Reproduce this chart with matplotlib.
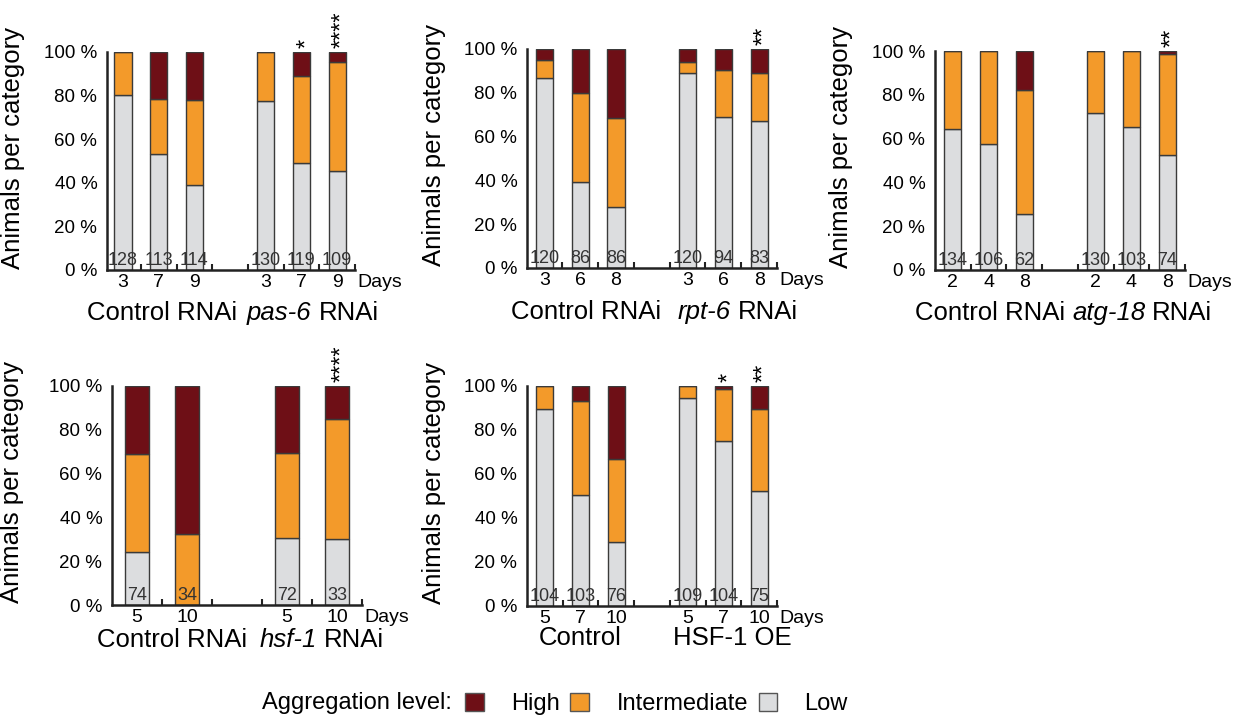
import matplotlib
matplotlib.use("Agg")
import matplotlib.pyplot as plt
from matplotlib.patches import Patch
from matplotlib.offsetbox import TextArea, HPacker, AnnotationBbox
from matplotlib.transforms import blended_transform_factory
import numpy as np

plt.rcParams['font.family'] = ['Liberation Sans', 'DejaVu Sans']

W, H = 1243, 715
HIGH_C = '#6e0f16'
MID_C = '#f39a2a'
LOW_C = '#dcdddf'
EDGE = '#3a3a3a'

# pas-6 panel
p1_days = ['3', '7', '9', '3', '7', '9']
p1_low = [80.5, 53.0, 39.2, 77.7, 49.3, 45.5]
p1_mid = [19.5, 25.6, 38.8, 22.3, 39.7, 49.9]
p1_high = [0.0, 21.4, 22.0, 0.0, 11.0, 4.6]
p1_n = [128, 113, 114, 130, 119, 109]
p1_stars = ['', '', '', '', '*', '****']
p1_groups = [('', 'Control RNAi'), ('pas-6', 'RNAi')]

# rpt-6 panel
p2_days = ['3', '6', '8', '3', '6', '8']
p2_low = [86.6, 39.4, 27.7, 89.0, 69.1, 67.3]
p2_mid = [8.2, 40.5, 40.8, 5.1, 21.2, 21.7]
p2_high = [5.2, 20.1, 31.5, 5.9, 9.7, 11.0]
p2_n = [120, 86, 86, 120, 94, 83]
p2_stars = ['', '', '', '', '', '**']
p2_groups = [('', 'Control RNAi'), ('rpt-6', 'RNAi')]

# atg-18 panel
p3_days = ['2', '4', '8', '2', '4', '8']
p3_low = [64.2, 57.5, 25.7, 71.5, 65.1, 52.7]
p3_mid = [35.8, 42.5, 56.5, 28.5, 34.9, 45.9]
p3_high = [0.0, 0.0, 17.8, 0.0, 0.0, 1.4]
p3_n = [134, 106, 62, 130, 103, 74]
p3_stars = ['', '', '', '', '', '**']
p3_groups = [('', 'Control RNAi'), ('atg-18', 'RNAi')]

# hsf-1 panel
p4_days = ['5', '10', '5', '10']
p4_low = [24.3, 0.0, 30.4, 30.1]
p4_mid = [44.5, 32.2, 38.9, 54.7]
p4_high = [31.2, 67.8, 30.7, 15.2]
p4_n = [74, 34, 72, 33]
p4_stars = ['', '', '', '****']
p4_groups = [('', 'Control RNAi'), ('hsf-1', 'RNAi')]

# HSF-1 OE panel
p5_days = ['5', '7', '10', '5', '7', '10']
p5_low = [89.5, 50.6, 29.1, 94.5, 75.2, 52.1]
p5_mid = [10.5, 42.6, 37.9, 5.5, 23.6, 37.3]
p5_high = [0.0, 6.8, 33.0, 0.0, 1.2, 10.6]
p5_n = [104, 103, 76, 109, 104, 75]
p5_stars = ['', '', '', '', '*', '**']
p5_groups = [('', 'Control'), ('', 'HSF-1 OE')]

legend_labels = ['High', 'Intermediate', 'Low']

fig = plt.figure(figsize=(W / 100, H / 100), dpi=100)


def draw_panel(rect, xlim, xpos, groups_x, low, mid, high, n, days, stars,
               groups, group_dy, ylab_dx):
    l, t, r, b = rect
    ax = fig.add_axes([l / W, 1 - b / H, (r - l) / W, (b - t) / H])
    low = np.array(low)
    mid = np.array(mid)
    high = np.array(high)
    kw = dict(width=0.48, edgecolor=EDGE, linewidth=1.0)
    ax.bar(xpos, low, color=LOW_C, **kw)
    ax.bar(xpos, mid, bottom=low, color=MID_C, **kw)
    ax.bar(xpos, high, bottom=low + mid, color=HIGH_C, **kw)

    ax.set_xlim(xlim)
    ax.set_ylim(0, 100)
    for s in ['top', 'right']:
        ax.spines[s].set_visible(False)
    for s in ['left', 'bottom']:
        ax.spines[s].set_linewidth(1.8)
        ax.spines[s].set_color('#222222')

    ax.set_yticks(range(0, 101, 20))
    ax.set_yticklabels([f'{v} %' for v in range(0, 101, 20)])
    ax.tick_params(axis='y', length=0, pad=7, labelsize=13.5)

    ax.set_xticks(np.arange(0.5, xlim[1] + 0.01, 1))
    ax.set_xticklabels([])
    ax.tick_params(axis='x', which='major', direction='in', length=4,
                   width=1.5, color='#222222')
    ax.set_xticks(xpos, minor=True)
    ax.set_xticklabels(days, minor=True)
    ax.tick_params(axis='x', which='minor', length=0, pad=3, labelsize=14)

    ax.annotate('Days', xy=(1, 0), xycoords='axes fraction', xytext=(2, -3),
                textcoords='offset points', ha='left', va='top', fontsize=14)

    for x, v, s in zip(xpos, n, stars):
        ax.text(x, 0.6, str(v), ha='center', va='bottom', fontsize=13,
                color='#333333')
        if s:
            ax.annotate(s, xy=(x, 100), xytext=(3.8, 3), textcoords='offset points',
                        ha='center', va='bottom', rotation=90, fontsize=17)

    ax.set_ylabel('Animals per category', fontsize=18.5)
    ax.yaxis.set_label_coords(-ylab_dx / (r - l), 0.56)

    trans = blended_transform_factory(ax.transData, ax.transAxes)
    for gx, (it, rest) in zip(groups_x, groups):
        parts = []
        if it:
            parts.append(TextArea(it, textprops=dict(fontsize=18.5, style='italic')))
        parts.append(TextArea(rest, textprops=dict(fontsize=18.5)))
        box = HPacker(children=parts, pad=0, sep=5)
        ab = AnnotationBbox(box, (gx, 0), xycoords=trans,
                            xybox=(0, -group_dy), boxcoords='offset points',
                            frameon=False, box_alignment=(0.5, 0.5))
        ax.add_artist(ab)
    return ax


six = [0, 1, 2, 4, 5, 6]
four = [0, 1, 3, 4]

draw_panel((107, 52, 355, 270), (-0.45, 6.5), six, (1.1, 5.32),
           p1_low, p1_mid, p1_high, p1_n, p1_days, p1_stars, p1_groups, 31, 82)
draw_panel((527, 49, 777, 268), (-0.49, 6.5), six, (1.15, 5.4),
           p2_low, p2_mid, p2_high, p2_n, p2_days, p2_stars, p2_groups, 32, 81)
draw_panel((935, 51, 1185, 270), (-0.5, 6.5), six, (1.05, 5.3),
           p3_low, p3_mid, p3_high, p3_n, p3_days, p3_stars, p3_groups, 31, 82)
draw_panel((112, 386, 362, 605), (-0.5, 4.5), four, (0.7, 3.7),
           p4_low, p4_mid, p4_high, p4_n, p4_days, p4_stars, p4_groups, 25, 88)
draw_panel((527, 386, 777, 606), (-0.5, 6.5), six, (1.0, 5.25),
           p5_low, p5_mid, p5_high, p5_n, p5_days, p5_stars, p5_groups, 23, 81)

fig.text(262 / W, 1 - 703 / H, 'Aggregation level:', ha='left', va='center',
         fontsize=17)
handles = [Patch(facecolor=c, edgecolor='#555555', linewidth=1.0)
           for c in (HIGH_C, MID_C, LOW_C)]
fig.legend(handles, legend_labels, loc='center left',
           bbox_to_anchor=(465 / W, 1 - 704 / H), ncol=3, frameon=False,
           fontsize=17, handlelength=0.8, handleheight=0.8,
           handletextpad=1.15, columnspacing=0.45, borderpad=0,
           borderaxespad=0)

fig.savefig('out.png', dpi=100)
